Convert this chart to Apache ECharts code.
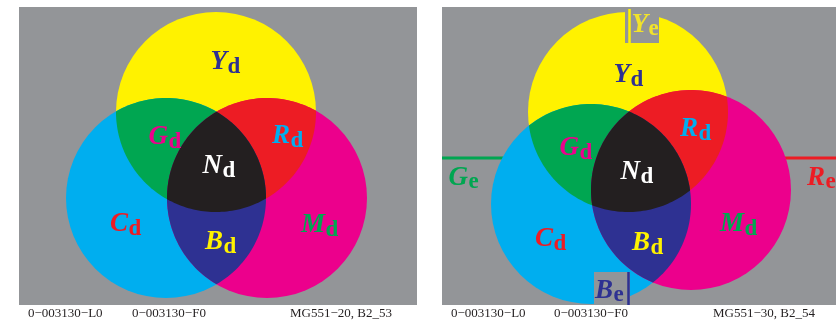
<!DOCTYPE html>
<html><head><meta charset="utf-8">
<script src="https://cdn.jsdelivr.net/npm/echarts@6/dist/echarts.min.js"></script>
<style>html,body{margin:0;padding:0;background:#fff}#c{width:836px;height:322px}</style>
</head><body><div id="c"></div>
<script>
// ---- data (diagram units = picture units) ----
const panelIds = [0, 1];
const panelBoxes = [[19, 7, 417, 305], [442, 7, 836, 305]];
const circleRadius = [100, 100];
const yellowCenters = [[216, 112], [628, 112]];
const cyanCenters = [[166, 198], [591, 204]];
const magentaCenters = [[267, 198], [691, 190]];

const labelMain = ['Y','G','R','N','C','M','B',  'Y','Y','G','R','N','C','M','B','B','G','R'];
const labelSub  = ['d','d','d','d','d','d','d',  'e','d','d','d','d','d','d','d','e','e','e'];
const labelKey  = ['Yd','Gd','Rd','Nd','Cd','Md','Bd', 'Ye','Yd','Gd','Rd','Nd','Cd','Md','Bd','Be','Ge','Re'];
const labelAnchorX = [227,168,290,222,128,325,223,  648,630,579,698,640,553,744,650,613,468,825];
const labelAnchorY = [62,137,136,166,224,225,242,   25,75,148,129,172,239,224,243,291,178,178];

const notchBoxes = [[625, 9, 659, 43], [594, 272, 630, 305]];
const notchLineX = [629.5, 628.5];
const edgeLines = [[442, 600, 158], [700, 836, 158]];

const footerText = ['0\u2212003130\u2212L0','0\u2212003130\u2212F0','MG551\u221220, B2_53',
                    '0\u2212003130\u2212L0','0\u2212003130\u2212F0','MG551\u221230, B2_54'];
const footerX = [28, 132, 290, 451, 554, 713];
const footerY = 314;

// ---- styles ----
const COL = {
  gray: '#939598', Y: '#fff200', C: '#00aeef', M: '#ec008c',
  G: '#00a651', R: '#ed1c24', B: '#2e3192', N: '#231f20'
};
const labelColor = {Yd: COL.B, Gd: COL.M, Rd: COL.C, Nd: '#ffffff', Cd: COL.R, Md: COL.G, Bd: COL.Y,
                    Ye: '#f2e32a', Be: COL.B, Ge: COL.G, Re: COL.R};
const SERIF = '"Liberation Serif","Times New Roman",serif';

// ---- geometry helpers ----
function inter(a, ra, b, rb) {
  const dx = b[0]-a[0], dy = b[1]-a[1], d = Math.hypot(dx, dy);
  const l = (ra*ra - rb*rb + d*d) / (2*d), h = Math.sqrt(Math.max(0, ra*ra - l*l));
  const mx = a[0] + l*dx/d, my = a[1] + l*dy/d;
  return [[mx - h*dy/d, my + h*dx/d], [mx + h*dy/d, my - h*dx/d]];
}
function wrap(a) { while (a > Math.PI) a -= 2*Math.PI; while (a <= -Math.PI) a += 2*Math.PI; return a; }
function arc(c, r, p1, p2, toward, n) {
  const t = Math.atan2(toward[1]-c[1], toward[0]-c[0]);
  const d1 = wrap(Math.atan2(p1[1]-c[1], p1[0]-c[0]) - t);
  const d2 = wrap(Math.atan2(p2[1]-c[1], p2[0]-c[0]) - t);
  const pts = [];
  for (let i = 0; i <= n; i++) {
    const ang = t + d1 + (d2 - d1) * i / n;
    pts.push([c[0] + r*Math.cos(ang), c[1] + r*Math.sin(ang)]);
  }
  return pts;
}
function lens(A, B, r) {
  const [P, Q] = inter(A, r, B, r);
  return arc(A, r, P, Q, B, 60).concat(arc(B, r, Q, P, A, 60));
}
function closer(pts, t) {
  const d0 = Math.hypot(pts[0][0]-t[0], pts[0][1]-t[1]);
  const d1 = Math.hypot(pts[1][0]-t[0], pts[1][1]-t[1]);
  return d0 < d1 ? pts[0] : pts[1];
}
const mid = (a, b) => [(a[0]+b[0])/2, (a[1]+b[1])/2];
function core(Y, C, M, r) {
  const yc = closer(inter(Y, r, C, r), M);
  const ym = closer(inter(Y, r, M, r), C);
  const cm = closer(inter(C, r, M, r), Y);
  return arc(Y, r, yc, ym, mid(C, M), 40)
    .concat(arc(M, r, ym, cm, mid(Y, C), 40))
    .concat(arc(C, r, cm, yc, mid(Y, M), 40));
}

function rectFrom(api, b, fill) {
  const p0 = api.coord([b[0], b[1]]), p1 = api.coord([b[2], b[3]]);
  return {type: 'rect', shape: {x: p0[0], y: p0[1], width: p1[0]-p0[0], height: p1[1]-p0[1]}, style: {fill}};
}

function renderPanel(params, api) {
  const p = api.value(0);
  const r = api.size([circleRadius[p], 0])[0];
  const Y = api.coord(yellowCenters[p]), C = api.coord(cyanCenters[p]), M = api.coord(magentaCenters[p]);
  const ch = [];
  ch.push(rectFrom(api, panelBoxes[p], COL.gray));
  if (p === 1) {
    edgeLines.forEach((e, i) => {
      const a = api.coord([e[0], e[2]]), b = api.coord([e[1], e[2]]);
      ch.push({type: 'line', shape: {x1: a[0], y1: a[1], x2: b[0], y2: b[1]},
               style: {stroke: i === 0 ? COL.G : COL.R, lineWidth: 3}});
    });
  }
  ch.push({type: 'circle', shape: {cx: Y[0], cy: Y[1], r}, style: {fill: COL.Y}});
  ch.push({type: 'circle', shape: {cx: C[0], cy: C[1], r}, style: {fill: COL.C}});
  ch.push({type: 'circle', shape: {cx: M[0], cy: M[1], r}, style: {fill: COL.M}});
  ch.push({type: 'polygon', shape: {points: lens(Y, C, r)}, style: {fill: COL.G}});
  ch.push({type: 'polygon', shape: {points: lens(Y, M, r)}, style: {fill: COL.R}});
  ch.push({type: 'polygon', shape: {points: lens(C, M, r)}, style: {fill: COL.B}});
  ch.push({type: 'polygon', shape: {points: core(Y, C, M, r)}, style: {fill: COL.N}});
  if (p === 1) {
    notchBoxes.forEach((b, i) => {
      ch.push(rectFrom(api, b, COL.gray));
      const a = api.coord([notchLineX[i], b[1]]), c = api.coord([notchLineX[i], b[3]]);
      ch.push({type: 'line', shape: {x1: a[0], y1: a[1], x2: c[0], y2: c[1]},
               style: {stroke: i === 0 ? COL.Y : COL.B, lineWidth: 2.5}});
    });
  }
  return {type: 'group', children: ch};
}

function renderLabel(params, api) {
  const i = params.dataIndex;
  const pt = api.coord([api.value(0), api.value(1)]);
  const key = labelKey[i], col = labelColor[key];
  const isE = labelSub[i] === 'e';
  return {type: 'group', children: [
    {type: 'text', x: pt[0], y: pt[1], style: {text: labelMain[i], fill: col, align: 'right', verticalAlign: 'middle',
      fontFamily: SERIF, fontWeight: 'bold', fontStyle: 'italic', fontSize: 27}},
    {type: 'text', x: pt[0] + 0.5, y: pt[1] + (isE ? 4 : 5), style: {text: labelSub[i], fill: col, align: 'left', verticalAlign: 'middle',
      fontFamily: SERIF, fontWeight: 'bold', fontSize: 23}}
  ]};
}

function renderFooter(params, api) {
  const i = params.dataIndex;
  const pt = api.coord([api.value(0), api.value(1)]);
  return {type: 'text', x: pt[0], y: pt[1], style: {text: footerText[i], fill: '#231f20', align: 'left',
    verticalAlign: 'middle', fontFamily: SERIF, fontSize: 13}};
}

const chart = echarts.init(document.getElementById('c'), null, {renderer: 'canvas'});
chart.setOption({
  animation: false,
  backgroundColor: '#ffffff',
  grid: {left: 0, right: 0, top: 0, bottom: 0},
  xAxis: {type: 'value', min: 0, max: 836, show: false},
  yAxis: {type: 'value', min: 0, max: 322, inverse: true, show: false},
  series: [
    {type: 'custom', clip: false, silent: true, renderItem: renderPanel,
     data: panelIds.map(p => [p, 0])},
    {type: 'custom', clip: false, silent: true, renderItem: renderLabel,
     data: labelAnchorX.map((x, i) => [x, labelAnchorY[i]])},
    {type: 'custom', clip: false, silent: true, renderItem: renderFooter,
     data: footerX.map(x => [x, footerY])}
  ]
});
</script></body></html>
